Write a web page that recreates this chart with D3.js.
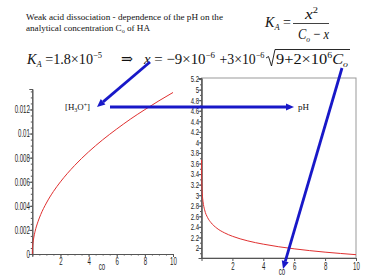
<!DOCTYPE html>
<html lang="en">
<head>
<meta charset="UTF-8">
<title>Weak acid dissociation</title>
<script src="https://d3js.org/d3.v7.min.js"></script>
<style>
    body { margin: 0; padding: 0; background: #fff; }
    svg { display: block; }
    .tick text { font-family: "Liberation Sans", Arial, sans-serif; font-size: 10.5px; fill: #222; }
    .ph .tick text { font-size: 9px; }
</style>
</head>
<body>
<svg id="chart" width="368" height="276"></svg>
<script>
// values
const coValues = [0, 0.005, 0.02, 0.05, 0.1, 0.2, 0.4, 0.6, 1, 1.5, 2, 3, 4, 5, 6, 7, 8, 9, 10];
const h3oValues = [0, 0.00029, 0.00059, 0.00094, 0.00133, 0.00189, 0.00267, 0.00328, 0.00423,
    0.00519, 0.00599, 0.00734, 0.00848, 0.00948, 0.01038, 0.01122, 0.01199, 0.01272, 0.01341];
const coPH = [0.003, 0.01, 0.02, 0.05, 0.1, 0.2, 0.4, 0.6, 1, 1.5, 2, 3, 4, 5, 6, 7, 8, 9, 10];
const pHValues = [3.67, 3.38, 3.23, 3.03, 2.875, 2.724, 2.573, 2.485, 2.373, 2.285, 2.222,
    2.134, 2.072, 2.023, 1.984, 1.950, 1.921, 1.896, 1.873];
const coTicks = [2, 4, 6, 8, 10];
const h3oTicks = [0, 0.002, 0.004, 0.006, 0.008, 0.01, 0.012];
const h3oTickLabels = ["0", "0.002", "0.004", "0.006", "0.008", "0.01", "0.012"];
const pHTicks = d3.range(2, 5.21, 0.2).map(v => +v.toFixed(1));

const SERIF = "'Liberation Serif', 'DejaVu Serif', 'Times New Roman', serif";
const SANS = "'Liberation Sans', Arial, sans-serif";
const svg = d3.select("#chart");

function squeezeLabels(k) {
    return g => {
        g.selectAll(".tick text").attr("transform", `scale(${k},1)`);
        g.select(".domain").attr("stroke", "#555");
        g.selectAll(".tick line").attr("stroke", "#555");
    };
}

function serifText(x, y, size, width) {
    const t = svg.append("text").attr("x", x).attr("y", y)
        .attr("font-family", SERIF).attr("font-size", size).attr("fill", "#111");
    if (width) t.attr("textLength", width).attr("lengthAdjust", "spacingAndGlyphs");
    return t;
}

// ---------- left chart: [H3O+] vs co ----------
const xL = d3.scaleLinear().domain([0, 10]).range([32.3, 173]);
const yL = d3.scaleLinear().domain([0, 0.0137]).range([254, 89]);

svg.append("g")
    .attr("transform", `translate(${xL(0)},0)`)
    .call(d3.axisLeft(yL).tickValues(d3.range(0, 0.0136, 0.0005)).tickSize(1.5).tickFormat(""))
    .call(squeezeLabels(0.58));
svg.append("g")
    .attr("transform", `translate(${xL(0)},0)`)
    .call(d3.axisLeft(yL).tickValues(h3oTicks).tickSize(3).tickPadding(1.2)
        .tickFormat((d, i) => h3oTickLabels[i]))
    .call(squeezeLabels(0.58));
svg.append("g")
    .attr("transform", `translate(0,${yL(0)})`)
    .call(d3.axisBottom(xL).tickValues(d3.range(0, 10.01, 0.5)).tickSize(1.5).tickFormat(""))
    .call(squeezeLabels(0.58));
svg.append("g")
    .attr("transform", `translate(0,${yL(0)})`)
    .call(d3.axisBottom(xL).tickValues(coTicks).tickSize(3).tickPadding(1))
    .call(squeezeLabels(0.58));

svg.append("path")
    .datum(coValues.map((c, i) => [c, h3oValues[i]]))
    .attr("fill", "none")
    .attr("stroke", "#e03030")
    .attr("stroke-width", 1)
    .attr("d", d3.line().x(d => xL(d[0])).y(d => yL(d[1])).curve(d3.curveMonotoneX));

svg.append("text")
    .attr("transform", "translate(102,270) scale(0.58,1)")
    .attr("text-anchor", "middle")
    .attr("font-family", SANS).attr("font-size", 10.5).attr("fill", "#222")
    .text("co");

// ---------- right chart: pH vs co ----------
const xR = d3.scaleLinear().domain([0, 10]).range([201.5, 356]);
const yR = d3.scaleLinear().domain([1.81, 5.22]).range([258, 78]);

svg.append("rect")
    .attr("x", xR(0)).attr("y", yR(5.22))
    .attr("width", xR(10) - xR(0)).attr("height", yR(1.81) - yR(5.22))
    .attr("fill", "none").attr("stroke", "#999").attr("stroke-width", 1);

svg.append("g")
    .attr("transform", `translate(${xR(0)},0)`)
    .call(d3.axisLeft(yR).tickValues(d3.range(1.9, 5.21, 0.1)).tickSize(1.5).tickFormat(""))
    .call(squeezeLabels(0.66));
svg.append("g").attr("class", "ph")
    .attr("transform", `translate(${xR(0)},0)`)
    .call(d3.axisLeft(yR).tickValues(pHTicks).tickSize(3).tickPadding(0.8).tickFormat(d3.format("")))
    .call(squeezeLabels(0.66));
svg.append("g")
    .attr("transform", `translate(0,${yR(1.81)})`)
    .call(d3.axisBottom(xR).tickValues(coTicks).tickSize(3).tickPadding(1.5))
    .call(squeezeLabels(0.58));

svg.append("path")
    .datum(coPH.map((c, i) => [c, pHValues[i]]))
    .attr("fill", "none")
    .attr("stroke", "#e03030")
    .attr("stroke-width", 1)
    .attr("d", d3.line().x(d => xR(d[0])).y(d => yR(d[1])).curve(d3.curveMonotoneX));

svg.append("text")
    .attr("transform", "translate(282,275) scale(0.58,1)")
    .attr("text-anchor", "middle")
    .attr("font-family", SANS).attr("font-size", 10.5).attr("fill", "#222")
    .text("co");

// ---------- heading text ----------
serifText(26, 20, 9, 197).text("Weak acid dissociation - dependence of the pH on the");
const head2 = serifText(26, 31, 9, 124);
head2.append("tspan").text("analytical concentration C");
head2.append("tspan").attr("dy", 2).attr("font-size", 6).text("o");
head2.append("tspan").attr("dy", -2).text(" of HA");

// K_A = x^2 / (C_o - x)
const k1 = serifText(265, 27, 15, 26);
k1.append("tspan").attr("font-style", "italic").text("K");
k1.append("tspan").attr("dy", 3).attr("font-size", 9).attr("font-style", "italic").text("A");
k1.append("tspan").attr("dy", -3).text(" =");
const num = serifText(305, 19, 15, 13);
num.append("tspan").attr("font-style", "italic").text("x");
num.append("tspan").attr("dy", -6).attr("font-size", 9).text("2");
svg.append("line").attr("x1", 293).attr("x2", 329).attr("y1", 23.5).attr("y2", 23.5)
    .attr("stroke", "#111").attr("stroke-width", 0.8);
const den = serifText(298, 38.5, 15, 31);
den.append("tspan").attr("font-style", "italic").text("C");
den.append("tspan").attr("dy", 3).attr("font-size", 9).attr("font-style", "italic").text("o");
den.append("tspan").attr("dy", -3).text(" \u2212 ");
den.append("tspan").attr("font-style", "italic").text("x");

// K_A = 1.8e-5  =>  x = ...
const a = serifText(27, 64, 15, 75);
a.append("tspan").attr("font-style", "italic").text("K");
a.append("tspan").attr("dy", 3).attr("font-size", 9).attr("font-style", "italic").text("A");
a.append("tspan").attr("dy", -3).text(" =1.8\u00d710");
a.append("tspan").attr("dy", -6).attr("font-size", 9).text("\u22125");
serifText(121, 64, 15, 12).text("\u21d2");
const b = serifText(144, 64, 15, 71);
b.append("tspan").attr("font-style", "italic").text("x");
b.append("tspan").text(" = \u22129\u00d710");
b.append("tspan").attr("dy", -6).attr("font-size", 9).text("\u22126");
const b2 = serifText(219.5, 64, 15, 45);
b2.append("tspan").text("+3\u00d710");
b2.append("tspan").attr("dy", -6).attr("font-size", 9).text("\u22126");
svg.append("path").attr("d", "M266,58 L268.5,56.5 L271.5,66 L275,49.5 L350,49.5")
    .attr("fill", "none").attr("stroke", "#111").attr("stroke-width", 0.9);
const c = serifText(276, 64, 15, 72);
c.append("tspan").text("9+2\u00d710");
c.append("tspan").attr("dy", -6).attr("font-size", 9).text("6");
c.append("tspan").attr("dy", 6).attr("font-style", "italic").text("C");
c.append("tspan").attr("dy", 3).attr("font-size", 9).attr("font-style", "italic").text("o");

// labels
const lab = serifText(65, 110, 9, 25);
lab.append("tspan").text("[H");
lab.append("tspan").attr("dy", 2).attr("font-size", 6).text("3");
lab.append("tspan").attr("dy", -2).text("O");
lab.append("tspan").attr("dy", -3).attr("font-size", 6).text("+");
lab.append("tspan").attr("dy", 3).text("]");
serifText(298, 110, 9).text("pH");

// ---------- blue arrows ----------
const blue = "#1818c8";
function arrow(x1, y1, x2, y2) {
    const ang = Math.atan2(y2 - y1, x2 - x1);
    const len = 8, half = 3.6;
    const bx = x2 - len * Math.cos(ang), by = y2 - len * Math.sin(ang);
    svg.append("line").attr("x1", x1).attr("y1", y1).attr("x2", bx).attr("y2", by)
        .attr("stroke", blue).attr("stroke-width", 2.8);
    const px = -Math.sin(ang) * half, py = Math.cos(ang) * half;
    svg.append("polygon")
        .attr("points", `${x2},${y2} ${bx + px},${by + py} ${bx - px},${by - py}`)
        .attr("fill", blue);
}
arrow(150, 62, 97, 107);
arrow(110, 107, 294, 107);
arrow(342, 68, 283, 269);
</script>
</body>
</html>
